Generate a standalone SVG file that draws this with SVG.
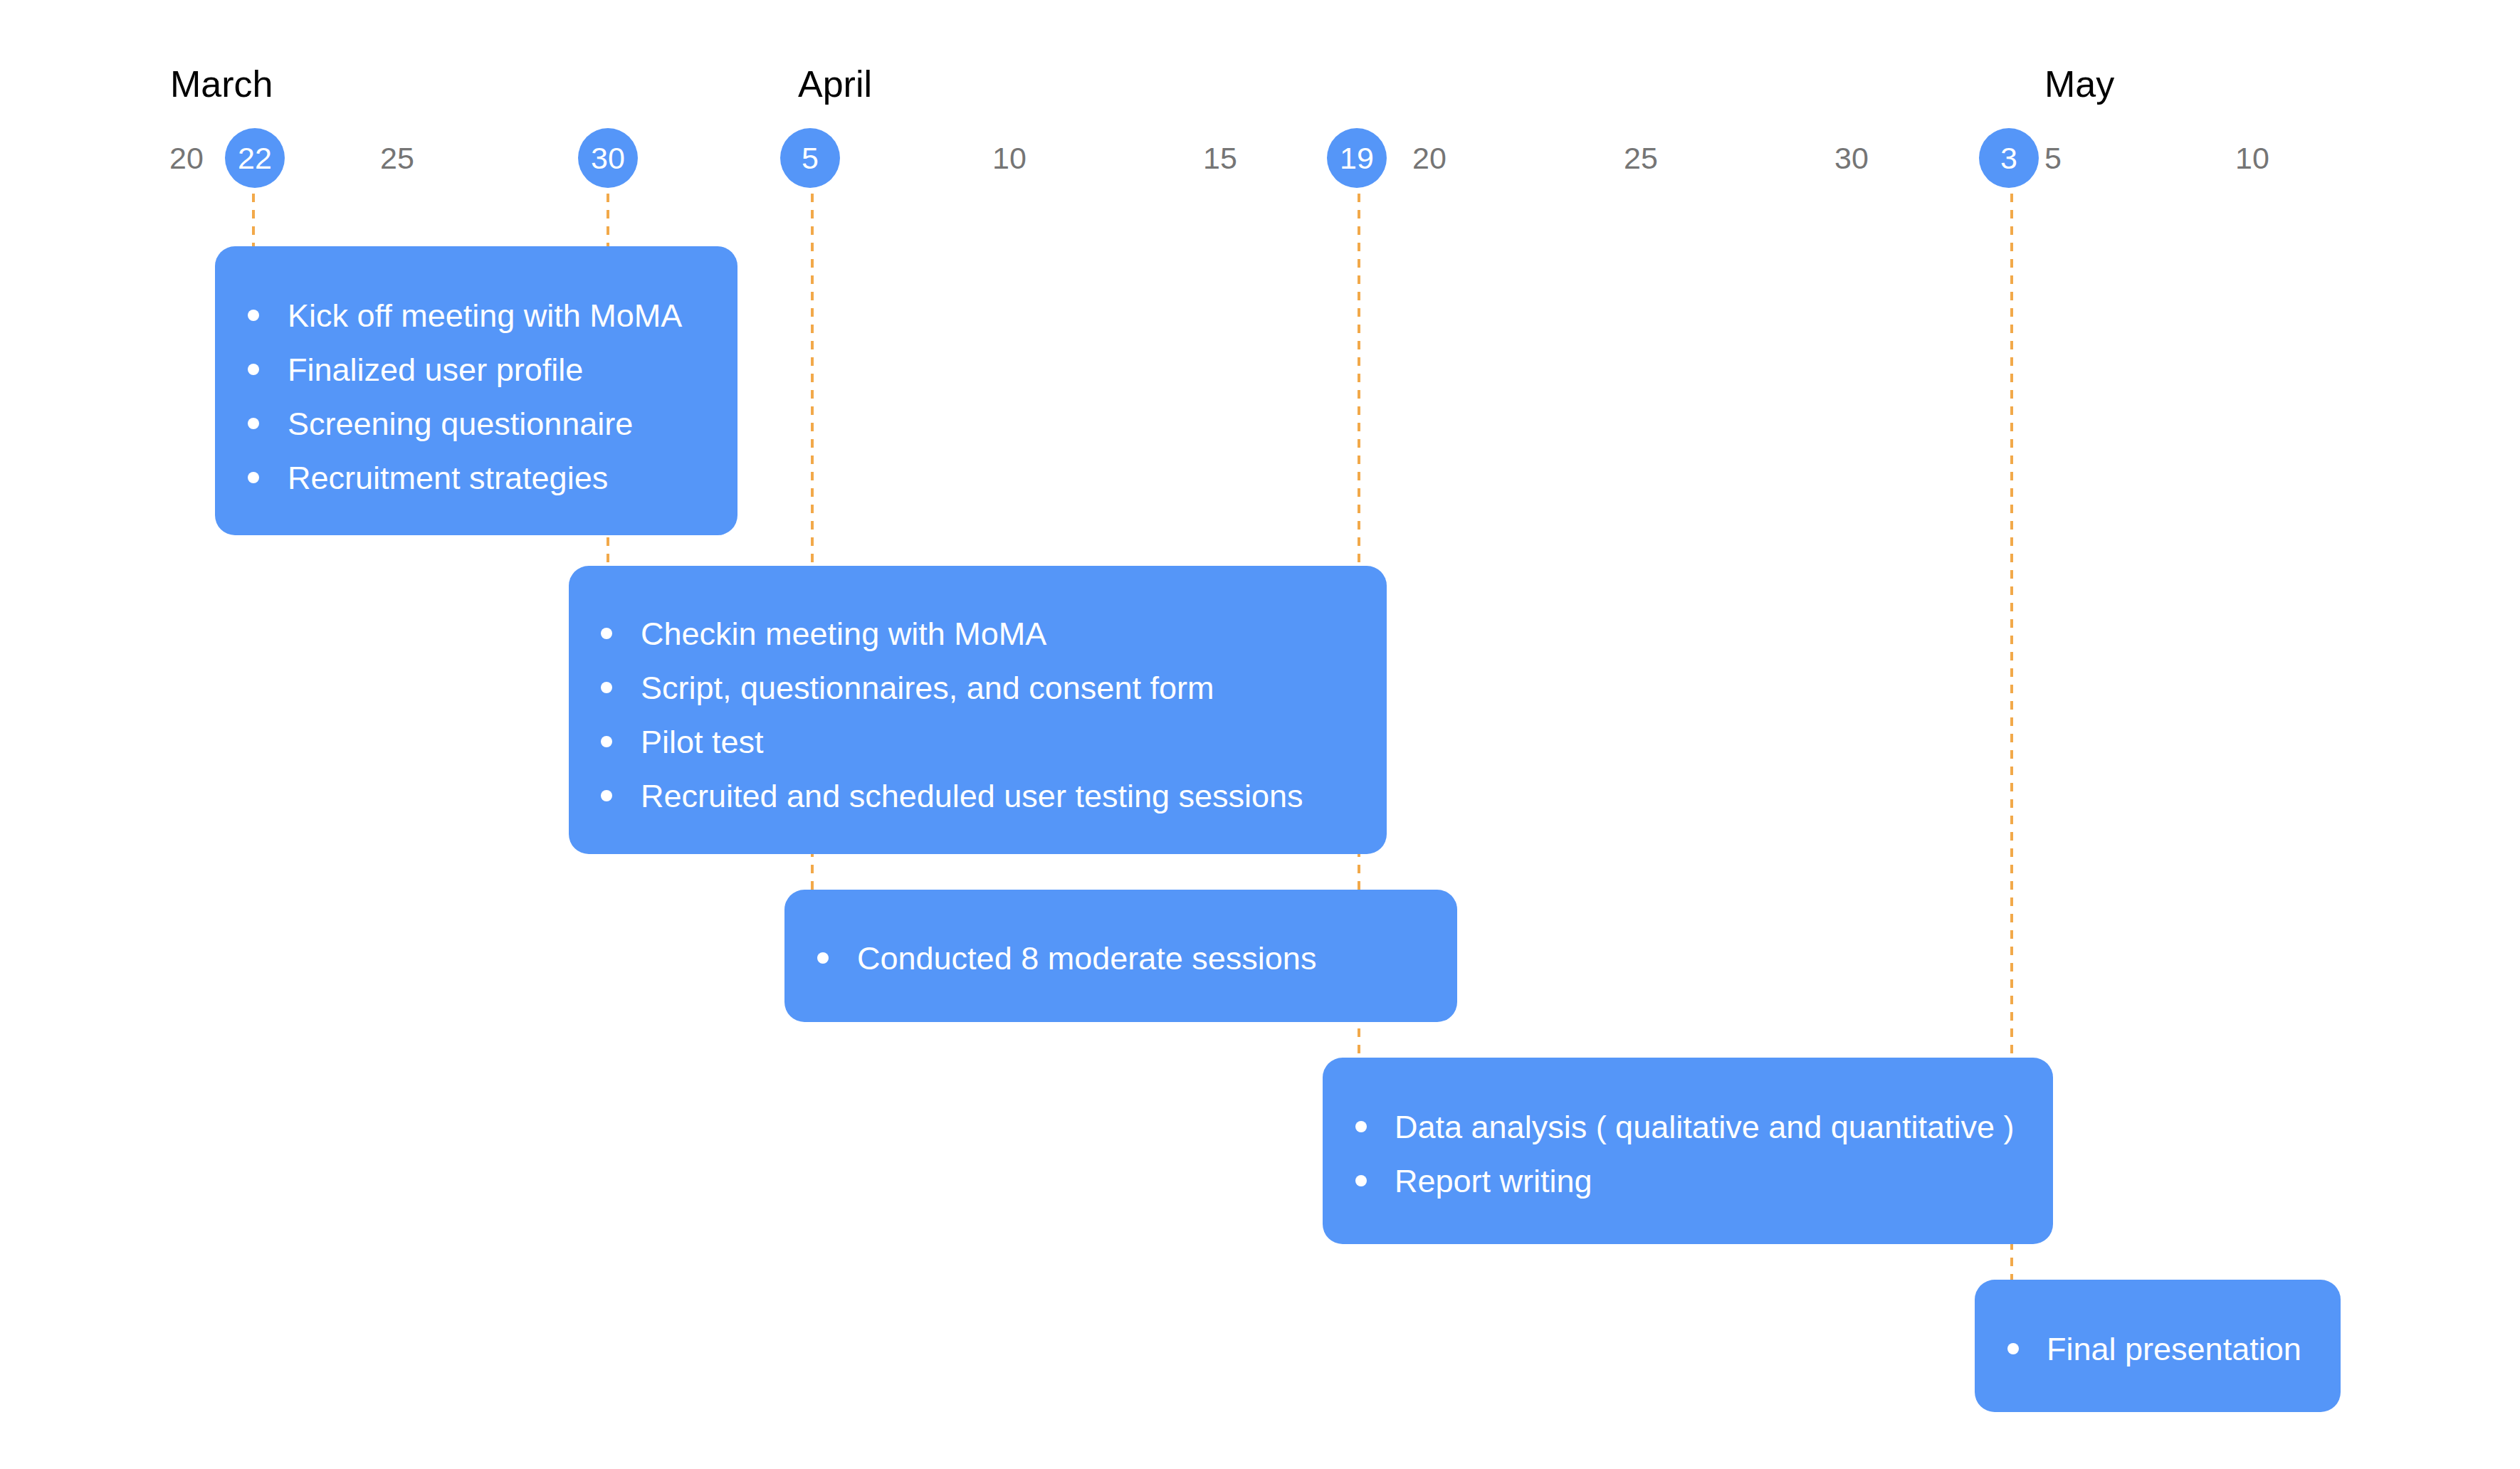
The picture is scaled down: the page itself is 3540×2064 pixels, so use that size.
<svg xmlns="http://www.w3.org/2000/svg" width="3540" height="2064" viewBox="0 0 3540 2064">
<style>
.month{font-family:"Liberation Sans",Arial,sans-serif;font-size:52px;fill:#000}
.day{font-family:"Liberation Sans",Arial,sans-serif;font-size:43px;fill:#757575;text-anchor:middle}
.mday{font-family:"Liberation Sans",Arial,sans-serif;font-size:43px;fill:#fff;text-anchor:middle}
.mark{fill:#5596F8}
.box{fill:#5596F8}
.item{font-family:"Liberation Sans",Arial,sans-serif;font-size:45px;fill:#fff}
.dot{fill:#fff}
.conn{stroke:#F2A94A;stroke-width:4;stroke-dasharray:12 11;fill:none}
</style>
<rect width="3540" height="2064" fill="#fff"/>
<g id="axis">
<text class="month" x="239" y="136">March</text>
<text class="month" x="1121" y="136">April</text>
<text class="month" x="2872" y="136">May</text>
<text class="day" x="262" y="237">20</text>
<text class="day" x="558" y="237">25</text>
<text class="day" x="1418" y="237">10</text>
<text class="day" x="1714" y="237">15</text>
<text class="day" x="2008" y="237">20</text>
<text class="day" x="2305" y="237">25</text>
<text class="day" x="2601" y="237">30</text>
<text class="day" x="2884" y="237">5</text>
<text class="day" x="3164" y="237">10</text>
</g>
<g id="connectors">
<line class="conn" x1="356" y1="272" x2="356" y2="348"/>
<line class="conn" x1="854" y1="272" x2="854" y2="797"/>
<line class="conn" x1="1141" y1="272" x2="1141" y2="1252"/>
<line class="conn" x1="1909" y1="272" x2="1909" y2="1488"/>
<line class="conn" x1="2826" y1="272" x2="2826" y2="1800"/>
</g>
<g id="m22"><circle class="mark" cx="358" cy="222" r="42"/><text class="mday" x="358" y="237">22</text></g>
<g id="m30"><circle class="mark" cx="854" cy="222" r="42"/><text class="mday" x="854" y="237">30</text></g>
<g id="m5"><circle class="mark" cx="1138" cy="222" r="42"/><text class="mday" x="1138" y="237">5</text></g>
<g id="m19"><circle class="mark" cx="1906" cy="222" r="42"/><text class="mday" x="1906" y="237">19</text></g>
<g id="m3"><circle class="mark" cx="2822" cy="222" r="42"/><text class="mday" x="2822" y="237">3</text></g>
<g id="task1">
<rect class="box" x="302" y="346" width="734" height="406" rx="28"/>
<circle class="dot" cx="356" cy="443" r="8"/><text class="item" x="404" y="459">Kick off meeting with MoMA</text>
<circle class="dot" cx="356" cy="519" r="8"/><text class="item" x="404" y="535">Finalized user profile</text>
<circle class="dot" cx="356" cy="595" r="8"/><text class="item" x="404" y="611">Screening questionnaire</text>
<circle class="dot" cx="356" cy="671" r="8"/><text class="item" x="404" y="687">Recruitment strategies</text>
</g>
<g id="task2">
<rect class="box" x="799" y="795" width="1149" height="405" rx="28"/>
<circle class="dot" cx="852" cy="890" r="8"/><text class="item" x="900" y="906">Checkin meeting with MoMA</text>
<circle class="dot" cx="852" cy="966" r="8"/><text class="item" x="900" y="982">Script, questionnaires, and consent form</text>
<circle class="dot" cx="852" cy="1042" r="8"/><text class="item" x="900" y="1058">Pilot test</text>
<circle class="dot" cx="852" cy="1118" r="8"/><text class="item" x="900" y="1134">Recruited and scheduled user testing sessions</text>
</g>
<g id="task3">
<rect class="box" x="1102" y="1250" width="945" height="186" rx="28"/>
<circle class="dot" cx="1156" cy="1346" r="8"/><text class="item" x="1204" y="1362">Conducted 8 moderate sessions</text>
</g>
<g id="task4">
<rect class="box" x="1858" y="1486" width="1026" height="262" rx="28"/>
<circle class="dot" cx="1912" cy="1583" r="8"/><text class="item" x="1959" y="1599">Data analysis ( qualitative and quantitative )</text>
<circle class="dot" cx="1912" cy="1659" r="8"/><text class="item" x="1959" y="1675">Report writing</text>
</g>
<g id="task5">
<rect class="box" x="2774" y="1798" width="514" height="186" rx="28"/>
<circle class="dot" cx="2828" cy="1895" r="8"/><text class="item" x="2875" y="1911">Final presentation</text>
</g>
</svg>
